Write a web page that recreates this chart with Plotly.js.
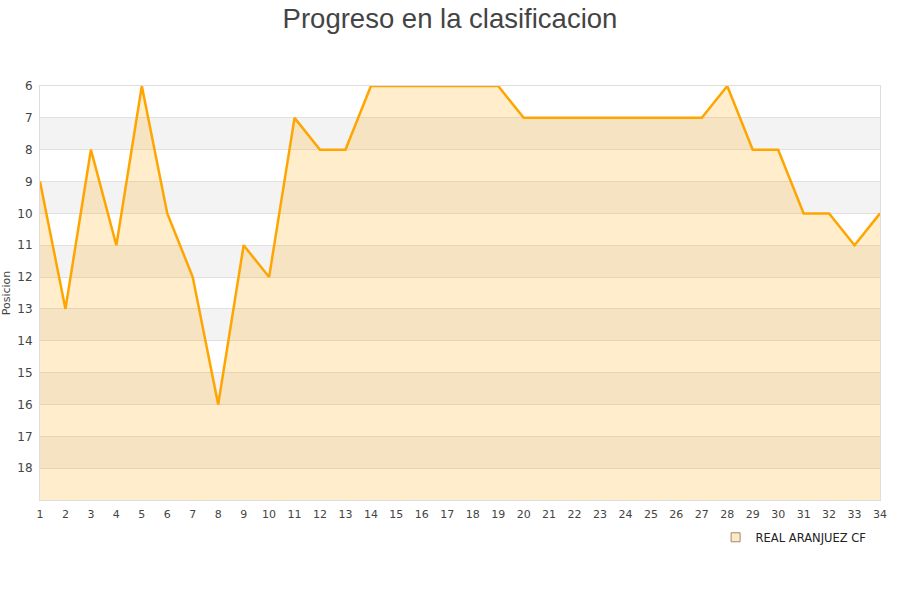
<!DOCTYPE html>
<html>
<head>
<meta charset="utf-8">
<script src="https://cdn.plot.ly/plotly-3.0.1.min.js"></script>
<style>html,body{margin:0;padding:0;background:#fff}#chart{width:900px;height:600px}</style>
</head>
<body>
<div id="chart"></div>
<script>
// Matchday numbers and league position after each one
const jornadas = [1,2,3,4,5,6,7,8,9,10,11,12,13,14,15,16,17,18,19,20,21,22,23,24,25,26,27,28,29,30,31,32,33,34];
const posicion = [9,13,8,11,6,10,12,16,11,12,7,8,8,6,6,6,6,6,6,7,7,7,7,7,7,7,7,6,8,8,10,10,11,10];
const equipo = "REAL ARANJUEZ CF";
const yTicks = [6,7,8,9,10,11,12,13,14,15,16,17,18];
const fondo = 19;          // lowest position shown at the bottom of the axis
const franjas = [7,9,11,13,15,17]; // start of each shaded band

const shapes = franjas.map(f => ({
  type: 'rect', xref: 'paper', yref: 'y', x0: 0, x1: 1, y0: f, y1: f + 1,
  fillcolor: '#f3f3f3', line: {width: 0}, layer: 'below'
}));

const traces = [
  { x: jornadas, y: jornadas.map(() => fondo), mode: 'lines', line: {width: 0},
    hoverinfo: 'skip', showlegend: false },
  { x: jornadas, y: posicion, mode: 'lines', fill: 'tonexty',
    fillcolor: 'rgba(255,165,0,0.2)', line: {color: '#FFA500', width: 2.5},
    name: equipo, showlegend: false },
  { x: [null], y: [null], mode: 'markers', name: equipo,
    marker: {symbol: 'square', size: 9, color: '#FFE8C4', line: {color: '#a08a6a', width: 1}} }
];

const layout = {
  width: 900, height: 600,
  margin: {l: 40, r: 20, t: 86, b: 100},
  paper_bgcolor: '#fff', plot_bgcolor: '#fff',
  title: {text: 'Progreso en la clasificacion', x: 0.5, xanchor: 'center', y: 0.985, yanchor: 'top',
          font: {family: 'Liberation Sans, Arial, sans-serif', size: 27.5, color: '#444'}},
  font: {family: 'DejaVu Sans, sans-serif', size: 11, color: '#444'},
  xaxis: {range: [1, 34], tickvals: jornadas, ticktext: jornadas.map(String), showgrid: false,
          zeroline: false, showline: true, linecolor: '#ddd', mirror: true, ticks: '',
          ticklabelstandoff: 4, tickfont: {size: 11, color: '#444'}},
  yaxis: {range: [fondo, 6], tickvals: yTicks, ticktext: yTicks.map(String), showgrid: true,
          gridcolor: '#e0e0e0', zeroline: false, showline: true, linecolor: '#ddd', mirror: true,
          ticks: '', ticklabelstandoff: 4,
          title: {text: 'Posicion', standoff: 8, font: {size: 11, color: '#444'}},
          tickfont: {size: 12, color: '#444'}},
  shapes: shapes,
  showlegend: true,
  legend: {orientation: 'h', x: 0.99, xanchor: 'right', y: -0.055, yanchor: 'top',
           font: {size: 11.5, color: '#222'}, bgcolor: 'rgba(0,0,0,0)'}
};

Plotly.newPlot('chart', traces, layout, {displayModeBar: false, staticPlot: true});
</script>
</body>
</html>
